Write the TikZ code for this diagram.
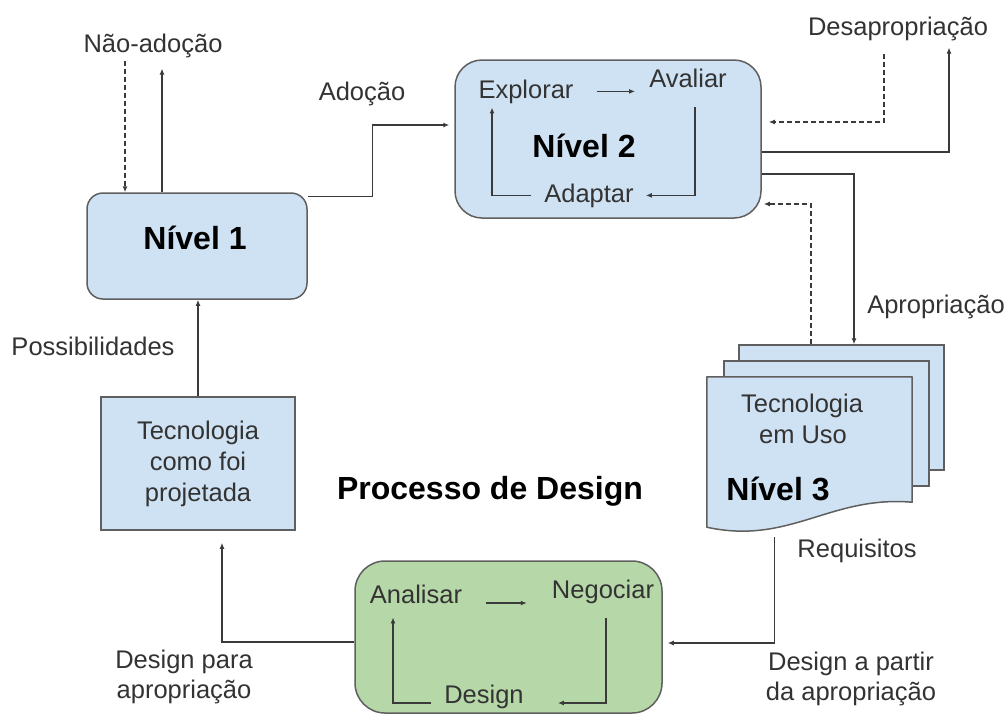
\documentclass[tikz,border=0pt]{standalone}
\usepackage{fontspec}
\setmainfont{Liberation Sans}
\usetikzlibrary{arrows.meta,calc}
\definecolor{boxblue}{HTML}{CFE2F3}
\definecolor{boxgreen}{HTML}{B6D7A8}
\definecolor{edgegray}{HTML}{5F5F5F}
\definecolor{linegray}{HTML}{3A3A3A}
\definecolor{txtgray}{HTML}{333333}
\tikzset{
 lbl/.style={inner sep=0pt, anchor=base, text=txtgray, font=\fontsize{25.5}{31}\selectfont},
 boldlbl/.style={inner sep=0pt, anchor=base, text=black, font=\fontsize{32}{36}\selectfont\bfseries},
 bluebox/.style={draw=edgegray, line width=1.5pt, fill=boxblue, inner sep=0pt},
 greenbox/.style={draw=edgegray, line width=1.5pt, fill=boxgreen, inner sep=0pt},
 conn/.style={draw=linegray, line width=1.3pt, -{Latex[length=6pt,width=5pt]}},
 dconn/.style={conn, dash pattern=on 5pt off 3pt},
}
\begin{document}
\begin{tikzpicture}[x=1pt,y=-1pt]
\useasboundingbox (0,0) rectangle (1008,716);
\fill[white] (0,0) rectangle (1008,716);

% boxes
\node[bluebox, rounded corners=16pt, minimum width=220pt, minimum height=106pt] (n1) at (197,246) {};
\node[bluebox, rounded corners=27pt, minimum width=306pt, minimum height=158pt] (n2) at (608,139) {};
\node[bluebox, minimum width=194pt, minimum height=133pt, align=center, text=txtgray,
      font=\fontsize{25.5}{31}\selectfont] (t) at (198,463.5) {Tecnologia\\como foi\\projetada};
\node[greenbox, rounded corners=30pt, minimum width=307pt, minimum height=152pt] (g) at (508.5,637) {};

% Nivel 3 stack
\node[bluebox, minimum width=205pt, minimum height=125pt] (back) at (841.5,407.5) {};
\node[bluebox, minimum width=205pt, minimum height=125pt] (mid) at (826.5,423.5) {};
\node[inner sep=0pt, minimum width=205pt, minimum height=125pt] (front) at (809.5,439.5) {};
\path[draw=edgegray, line width=1.5pt, fill=boxblue, line join=round]
  (front.north west) -- (front.north east) -- (front.south east)
  .. controls ([xshift=-82pt,yshift=7pt]front.south east) and ([xshift=83pt,yshift=-43pt]front.south west)
  .. ([yshift=-25pt]front.south west) -- cycle;

% texts
\node[lbl] (nao) at (153,52) {Não-adoção};
\node[lbl] (adoc) at (362,100) {Adoção};
\node[boldlbl] (n1t) at (195,249) {Nível 1};
\node[lbl] (expl) at (526,98) {Explorar};
\node[lbl] (aval) at (688,87) {Avaliar};
\node[boldlbl] (n2t) at (584,157) {Nível 2};
\node[lbl] (adap) at (589,202) {Adaptar};
\node[lbl] (desap) at (898,35) {Desapropriação};
\node[lbl] (aprop) at (936,313) {Apropriação};
\node[lbl, align=center] (tuso) at (802,412) {Tecnologia};
\node[lbl] (emuso) at (803,443) {em Uso};
\node[boldlbl] (n3t) at (778,500) {Nível 3};
\node[lbl] (req) at (857,557) {Requisitos};
\node[lbl] (poss) at (93,355) {Possibilidades};
\node[boldlbl] (proc) at (490,499) {Processo de Design};
\node[lbl] (dpa1) at (184,668) {Design para};
\node[lbl] (dpa2) at (184,698) {apropriação};
\node[lbl] (anal) at (416,603) {Analisar};
\node[lbl] (nego) at (603,598) {Negociar};
\node[lbl] (des) at (484,703) {Design};
\node[lbl] (dap1) at (851,670) {Design a partir};
\node[lbl] (dap2) at (851,700) {da apropriação};

% connectors around Nivel 1
\draw[dconn, shorten <=3pt] ([xshift=-28pt]nao.south) -- ([xshift=-28pt]nao.south |- n1.north);
\draw[conn] ([xshift=9pt]nao.south |- n1.north) -- ([xshift=9pt,yshift=-11pt]nao.south);
\draw[conn, shorten >=5pt] ([yshift=-4pt]n1.north east) -- ++(65,0) |- ([yshift=14pt]n2.west);
\draw[conn] (t.north) -- (t.north |- n1.south);

% connectors around Nivel 2
\draw[dconn, shorten >=7pt] ([xshift=-14pt,yshift=-13pt]desap.south) |- ([yshift=17pt]n2.east);
\draw[conn] ([yshift=-13pt]n2.east) -| ([xshift=51pt,yshift=-7pt]desap.south);
\draw[conn] ([yshift=-35pt]n2.east) -| ([xshift=12.5pt]back.north);
\draw[dconn, shorten >=2pt] ([xshift=-30.5pt]back.north) |- ([yshift=-65pt]n2.east);

% inner loop of Nivel 2
\draw[conn, shorten <=23pt, shorten >=14pt] (expl.east) -- (expl.east -| aval.west);
\draw[conn, shorten <=20pt, shorten >=12pt] ([xshift=7pt]aval.south) |- (adap.east);
\draw[conn, shorten <=13pt, shorten >=4pt] (adap.west) -| ([xshift=-34pt]expl.south);

% design process
\draw[conn, shorten >=5pt] ([xshift=68pt,yshift=-35pt]front.south west) |- ([yshift=-6pt]g.east);
\draw[conn, shorten >=12pt] ([yshift=-5pt]g.west) -| ([xshift=24pt]t.south);

% inner loop of green box
\draw[conn, shorten <=24pt, shorten >=25pt] (anal.base east) -- (anal.base east -| nego.west);
\draw[conn, shorten <=14pt, shorten >=34pt] ([xshift=3pt]nego.south) |- (des.base east);
\draw[conn, shorten <=13pt, shorten >=14pt] (des.base west) -| ([xshift=-23pt]anal.south);
\end{tikzpicture}
\end{document}
